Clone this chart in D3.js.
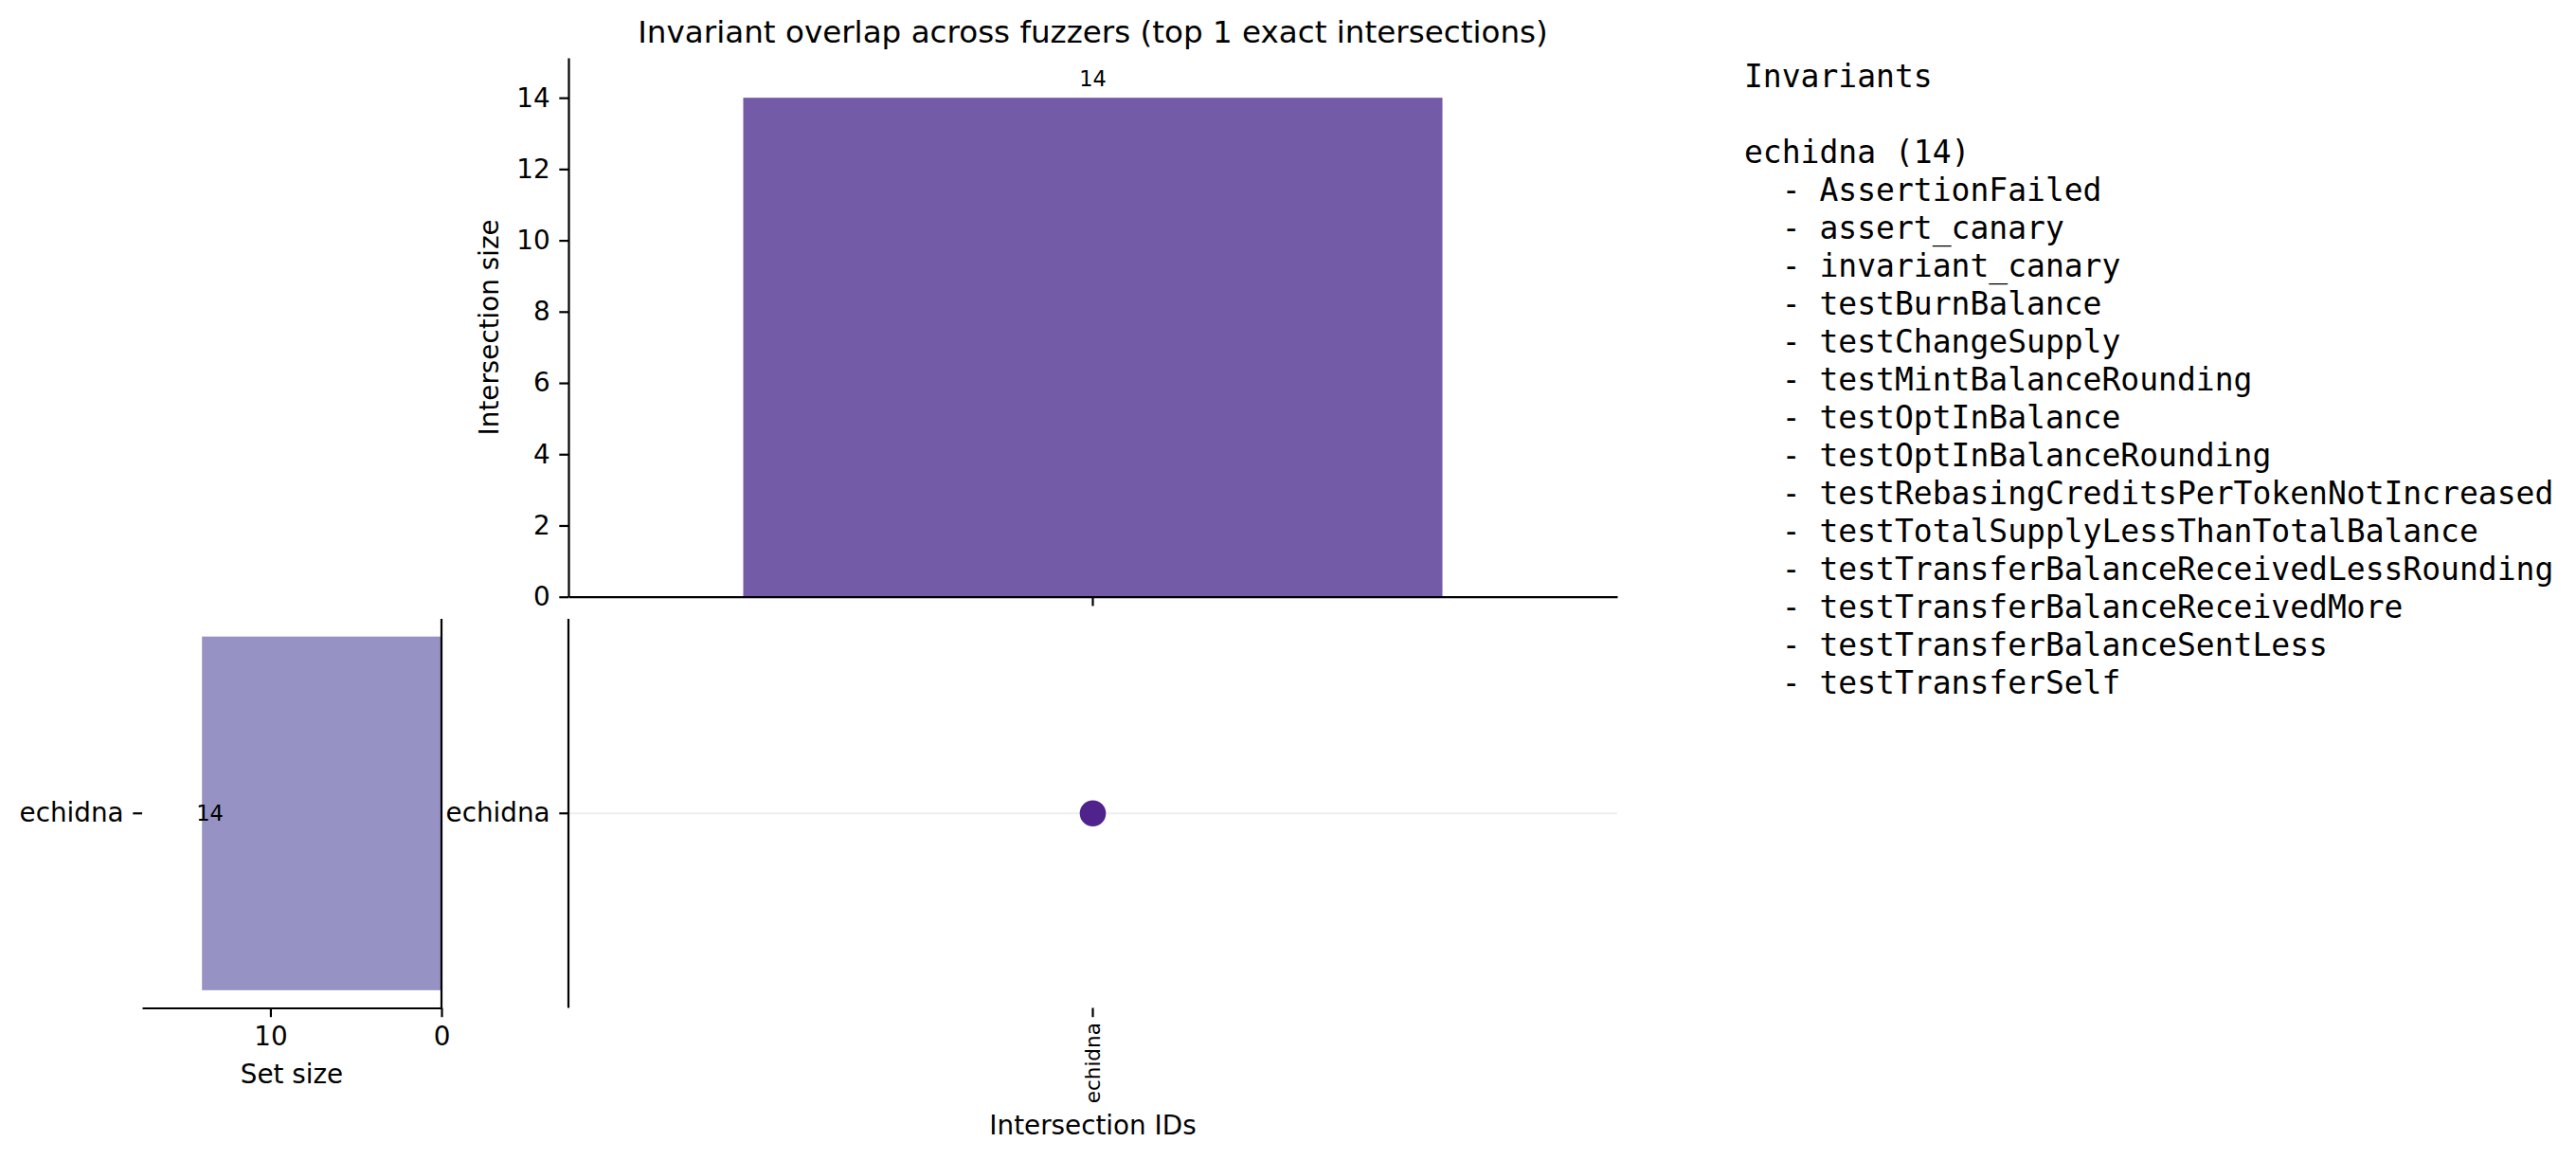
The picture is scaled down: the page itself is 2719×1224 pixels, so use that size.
<!DOCTYPE html>
<html>
<head>
<meta charset="utf-8">
<script src="https://cdn.jsdelivr.net/npm/d3@7"></script>
<style>
    body { margin: 0; background: #fff; }
    svg { display: block; font-family: "DejaVu Sans", sans-serif; }
    .axis text { font-family: "DejaVu Sans", sans-serif; font-size: 27.8px; fill: #000; }
    .axis path, .axis line { stroke: #000; stroke-width: 2.2; }
    .mono { font-family: "DejaVu Sans Mono", monospace; font-size: 33px; white-space: pre; }
</style>
</head>
<body>
<div id="view"></div>
<script>
// data
const sets = ["echidna"];
const setSizes = [14];
const intersectionIds = ["echidna"];
const intersectionSizes = [14];
const intersectionMembers = [["echidna"]];
const sizeTicks = [0, 2, 4, 6, 8, 10, 12, 14];
const setSizeTicks = [0, 10];
const invariants = [
    "AssertionFailed",
    "assert_canary",
    "invariant_canary",
    "testBurnBalance",
    "testChangeSupply",
    "testMintBalanceRounding",
    "testOptInBalance",
    "testOptInBalanceRounding",
    "testRebasingCreditsPerTokenNotIncreased",
    "testTotalSupplyLessThanTotalBalance",
    "testTransferBalanceReceivedLessRounding",
    "testTransferBalanceReceivedMore",
    "testTransferBalanceSentLess",
    "testTransferSelf"
];

const W = 2719;
const H = 1224;
const TICK = 9.7;
const PAD = 9.7;

const barColor = "#735ba8";
const setColor = "#9692c3";
const dotColor = "#4f228c";

const svg = d3.select("#view")
    .append("svg")
        .attr("width", W)
        .attr("height", H);
svg.append("rect").attr("width", W).attr("height", H).attr("fill", "#fff");

// panel boxes
const barBox = {left: 600, right: 1707, top: 61, bottom: 629.7};
const matBox = {left: 600, right: 1707, top: 653, bottom: 1063.5};
const sideBox = {left: 150, right: 466, top: 653, bottom: 1063.5};

// shared scales
const x = d3.scaleBand()
    .domain(intersectionIds)
    .range([barBox.left, barBox.right])
    .paddingInner(0)
    .paddingOuter(0.25);
const y = d3.scaleLinear()
    .domain([0, d3.max(intersectionSizes) * 1.08])
    .range([barBox.bottom, barBox.top]);
const rowY = d3.scaleBand()
    .domain(sets)
    .range([matBox.top, matBox.bottom])
    .paddingInner(0)
    .paddingOuter(0.05);
const sx = d3.scaleLinear()
    .domain([0, d3.max(setSizes) * 1.25])
    .range([sideBox.right, sideBox.left]);

// title
svg.append("text")
    .attr("x", (barBox.left + barBox.right) / 2)
    .attr("y", 45)
    .attr("text-anchor", "middle")
    .attr("font-size", "32.6px")
    .text("Invariant overlap across fuzzers (top 1 exact intersections)");

// intersection size bars
svg.selectAll(".ibar")
    .data(intersectionIds)
    .join("rect")
        .attr("class", "ibar")
        .attr("x", d => x(d))
        .attr("width", x.bandwidth())
        .attr("y", (d, i) => y(intersectionSizes[i]))
        .attr("height", (d, i) => y(0) - y(intersectionSizes[i]))
        .attr("fill", barColor);

svg.selectAll(".ilabel")
    .data(intersectionIds)
    .join("text")
        .attr("class", "ilabel")
        .attr("x", d => x(d) + x.bandwidth() / 2)
        .attr("y", (d, i) => y(intersectionSizes[i]) - 12)
        .attr("text-anchor", "middle")
        .attr("font-size", "22.5px")
        .text((d, i) => intersectionSizes[i]);

svg.append("g")
    .attr("class", "axis")
    .attr("transform", `translate(${barBox.left},0)`)
    .call(d3.axisLeft(y).tickValues(sizeTicks).tickSizeInner(TICK).tickSizeOuter(0).tickPadding(PAD));
svg.append("g")
    .attr("class", "axis")
    .attr("transform", `translate(0,${barBox.bottom})`)
    .call(d3.axisBottom(x).tickSizeInner(TICK).tickSizeOuter(0).tickFormat(""));

svg.append("text")
    .attr("transform", `translate(526,${(barBox.top + barBox.bottom) / 2}) rotate(-90)`)
    .attr("text-anchor", "middle")
    .attr("font-size", "27.8px")
    .text("Intersection size");

// matrix
svg.selectAll(".grid")
    .data(sets)
    .join("line")
        .attr("class", "grid")
        .attr("x1", matBox.left)
        .attr("x2", matBox.right)
        .attr("y1", d => rowY(d) + rowY.bandwidth() / 2)
        .attr("y2", d => rowY(d) + rowY.bandwidth() / 2)
        .attr("stroke", "#efefef")
        .attr("stroke-width", 2);

const cells = [];
intersectionIds.forEach((id, i) => {
    sets.forEach(s => {
        cells.push({id: id, set: s, on: intersectionMembers[i].includes(s)});
    });
});
svg.selectAll(".dot")
    .data(cells)
    .join("circle")
        .attr("class", "dot")
        .attr("cx", d => x(d.id) + x.bandwidth() / 2)
        .attr("cy", d => rowY(d.set) + rowY.bandwidth() / 2)
        .attr("r", 13.8)
        .attr("fill", d => d.on ? dotColor : "#dddddd");

const matLeft = svg.append("g")
    .attr("class", "axis")
    .attr("transform", `translate(${matBox.left},0)`)
    .call(d3.axisLeft(rowY).tickSizeInner(TICK).tickSizeOuter(0).tickPadding(PAD));
matLeft.select(".domain").attr("d", `M0,${matBox.top}V${matBox.bottom}`);

const matBottom = svg.append("g")
    .attr("class", "axis")
    .attr("transform", `translate(0,${matBox.bottom})`)
    .call(d3.axisBottom(x).tickSizeInner(TICK).tickSizeOuter(0).tickPadding(6));
matBottom.select(".domain").remove();
matBottom.selectAll("text")
    .attr("transform", "rotate(-90)")
    .attr("text-anchor", "end")
    .attr("x", -(TICK + 6))
    .attr("y", 0)
    .attr("dy", "0.35em")
    .style("font-size", "21.5px");

svg.append("text")
    .attr("x", (matBox.left + matBox.right) / 2)
    .attr("y", 1196.5)
    .attr("text-anchor", "middle")
    .attr("font-size", "27.8px")
    .text("Intersection IDs");

// set size bars
svg.selectAll(".sbar")
    .data(sets)
    .join("rect")
        .attr("class", "sbar")
        .attr("x", (d, i) => sx(setSizes[i]))
        .attr("width", (d, i) => sx(0) - sx(setSizes[i]))
        .attr("y", d => rowY(d))
        .attr("height", rowY.bandwidth())
        .attr("fill", setColor);

svg.selectAll(".slabel")
    .data(sets)
    .join("text")
        .attr("class", "slabel")
        .attr("x", (d, i) => sx(setSizes[i]) - 6)
        .attr("y", d => rowY(d) + rowY.bandwidth() / 2)
        .attr("dy", "0.35em")
        .attr("font-size", "22.5px")
        .text((d, i) => setSizes[i]);

svg.append("g")
    .attr("class", "axis")
    .attr("transform", `translate(0,${sideBox.bottom})`)
    .call(d3.axisBottom(sx).tickValues(setSizeTicks).tickSizeInner(TICK).tickSizeOuter(0).tickPadding(PAD));

const sideLeft = svg.append("g")
    .attr("class", "axis")
    .attr("transform", `translate(${sideBox.left},0)`)
    .call(d3.axisLeft(rowY).tickSizeInner(TICK).tickSizeOuter(0).tickPadding(PAD));
sideLeft.select(".domain").remove();

svg.append("line")
    .attr("x1", sideBox.right).attr("x2", sideBox.right)
    .attr("y1", sideBox.top).attr("y2", sideBox.bottom)
    .attr("stroke", "#000")
    .attr("stroke-width", 2.2);

svg.append("text")
    .attr("x", (sideBox.left + sideBox.right) / 2)
    .attr("y", 1143)
    .attr("text-anchor", "middle")
    .attr("font-size", "27.8px")
    .text("Set size");

// invariant listing
const lines = ["Invariants", ""];
sets.forEach((s, i) => {
    lines.push(`${s} (${setSizes[i]})`);
    invariants.forEach(name => lines.push(`  - ${name}`));
});
svg.selectAll(".mono")
    .data(lines)
    .join("text")
        .attr("class", "mono")
        .attr("x", 1841)
        .attr("y", (d, i) => 92 + i * 40)
        .text(d => d);
</script>
</body>
</html>
